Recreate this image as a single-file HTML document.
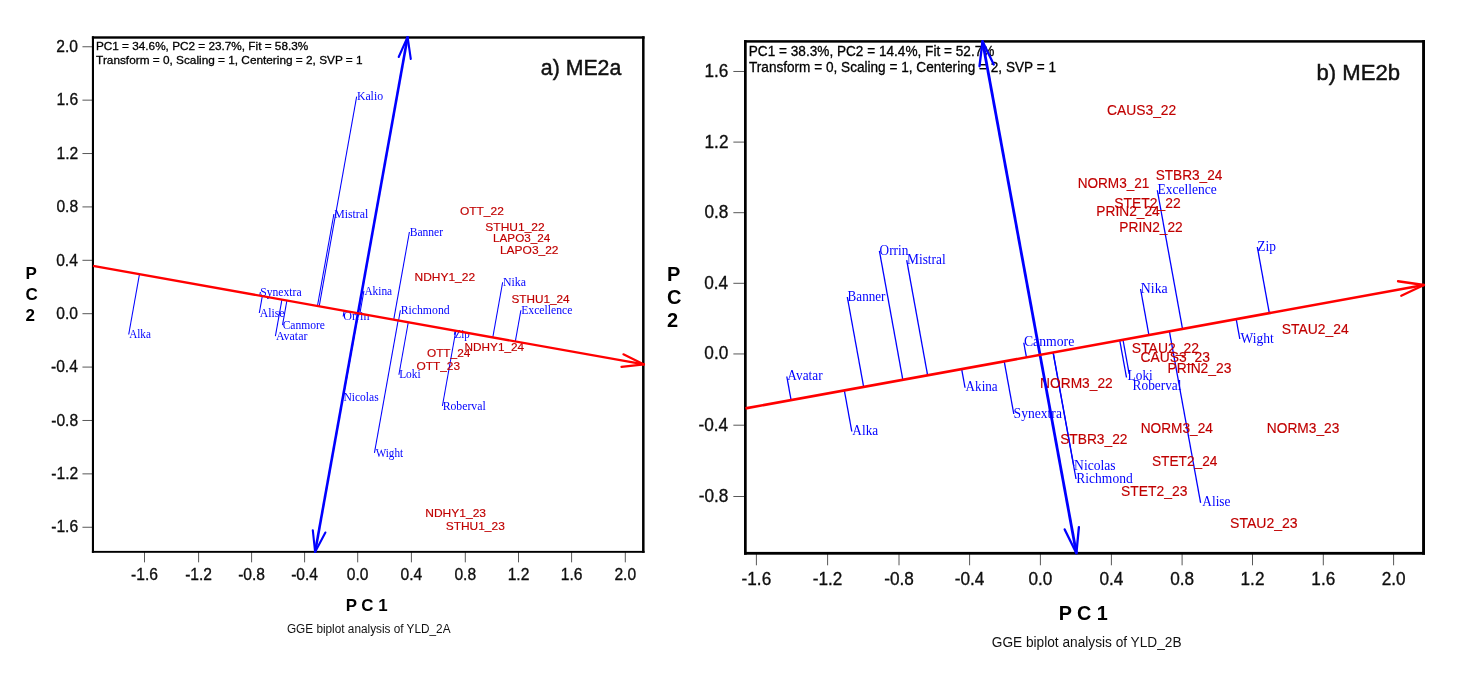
<!DOCTYPE html>
<html lang="en"><head><meta charset="utf-8"><title>GGE biplots ME2a / ME2b</title>
<style>
html,body{margin:0;padding:0;background:#fff;}
body{width:1461px;height:680px;overflow:hidden;}
svg{display:block;}
.s{font-family:"Liberation Sans",Arial,Helvetica,sans-serif;}
.t{font-family:"Liberation Serif","Times New Roman",Times,serif;}
</style></head><body>
<svg width="1461" height="680" viewBox="0 0 1461 680">
<rect width="1461" height="680" fill="#fff"/>
<line x1="82.45" y1="46.76" x2="92.95" y2="46.76" stroke="#585858" stroke-width="1"/>
<text x="56.32" y="51.96" font-size="16" fill="#111111" class="s" textLength="21.69" lengthAdjust="spacingAndGlyphs" stroke="#000" stroke-width="0.3">2.0</text>
<line x1="82.45" y1="100.15" x2="92.95" y2="100.15" stroke="#585858" stroke-width="1"/>
<text x="56.39" y="105.35" font-size="16" fill="#111111" class="s" textLength="21.69" lengthAdjust="spacingAndGlyphs" stroke="#000" stroke-width="0.3">1.6</text>
<line x1="82.45" y1="153.54" x2="92.95" y2="153.54" stroke="#585858" stroke-width="1"/>
<text x="56.49" y="158.74" font-size="16" fill="#111111" class="s" textLength="21.69" lengthAdjust="spacingAndGlyphs" stroke="#000" stroke-width="0.3">1.2</text>
<line x1="82.45" y1="206.92" x2="92.95" y2="206.92" stroke="#585858" stroke-width="1"/>
<text x="56.38" y="212.12" font-size="16" fill="#111111" class="s" textLength="21.69" lengthAdjust="spacingAndGlyphs" stroke="#000" stroke-width="0.3">0.8</text>
<line x1="82.45" y1="260.31" x2="92.95" y2="260.31" stroke="#585858" stroke-width="1"/>
<text x="56.16" y="265.51" font-size="16" fill="#111111" class="s" textLength="21.69" lengthAdjust="spacingAndGlyphs" stroke="#000" stroke-width="0.3">0.4</text>
<line x1="82.45" y1="313.7" x2="92.95" y2="313.7" stroke="#585858" stroke-width="1"/>
<text x="56.32" y="318.90" font-size="16" fill="#111111" class="s" textLength="21.69" lengthAdjust="spacingAndGlyphs" stroke="#000" stroke-width="0.3">0.0</text>
<line x1="82.45" y1="367.09" x2="92.95" y2="367.09" stroke="#585858" stroke-width="1"/>
<text x="50.97" y="372.29" font-size="16" fill="#111111" class="s" textLength="26.89" lengthAdjust="spacingAndGlyphs" stroke="#000" stroke-width="0.3">-0.4</text>
<line x1="82.45" y1="420.48" x2="92.95" y2="420.48" stroke="#585858" stroke-width="1"/>
<text x="51.19" y="425.68" font-size="16" fill="#111111" class="s" textLength="26.89" lengthAdjust="spacingAndGlyphs" stroke="#000" stroke-width="0.3">-0.8</text>
<line x1="82.45" y1="473.86" x2="92.95" y2="473.86" stroke="#585858" stroke-width="1"/>
<text x="51.30" y="479.06" font-size="16" fill="#111111" class="s" textLength="26.89" lengthAdjust="spacingAndGlyphs" stroke="#000" stroke-width="0.3">-1.2</text>
<line x1="82.45" y1="527.25" x2="92.95" y2="527.25" stroke="#585858" stroke-width="1"/>
<text x="51.20" y="532.45" font-size="16" fill="#111111" class="s" textLength="26.89" lengthAdjust="spacingAndGlyphs" stroke="#000" stroke-width="0.3">-1.6</text>
<line x1="144.5" y1="551.85" x2="144.5" y2="562.35" stroke="#585858" stroke-width="1"/>
<text x="131.06" y="579.50" font-size="16" fill="#111111" class="s" textLength="26.89" lengthAdjust="spacingAndGlyphs" stroke="#000" stroke-width="0.3">-1.6</text>
<line x1="198.6" y1="551.85" x2="198.6" y2="562.35" stroke="#585858" stroke-width="1"/>
<text x="185.16" y="579.50" font-size="16" fill="#111111" class="s" textLength="26.89" lengthAdjust="spacingAndGlyphs" stroke="#000" stroke-width="0.3">-1.2</text>
<line x1="251.6" y1="551.85" x2="251.6" y2="562.35" stroke="#585858" stroke-width="1"/>
<text x="238.16" y="579.50" font-size="16" fill="#111111" class="s" textLength="26.89" lengthAdjust="spacingAndGlyphs" stroke="#000" stroke-width="0.3">-0.8</text>
<line x1="304.6" y1="551.85" x2="304.6" y2="562.35" stroke="#585858" stroke-width="1"/>
<text x="291.16" y="579.50" font-size="16" fill="#111111" class="s" textLength="26.89" lengthAdjust="spacingAndGlyphs" stroke="#000" stroke-width="0.3">-0.4</text>
<line x1="357.7" y1="551.85" x2="357.7" y2="562.35" stroke="#585858" stroke-width="1"/>
<text x="346.85" y="579.50" font-size="16" fill="#111111" class="s" textLength="21.69" lengthAdjust="spacingAndGlyphs" stroke="#000" stroke-width="0.3">0.0</text>
<line x1="411.4" y1="551.85" x2="411.4" y2="562.35" stroke="#585858" stroke-width="1"/>
<text x="400.55" y="579.50" font-size="16" fill="#111111" class="s" textLength="21.69" lengthAdjust="spacingAndGlyphs" stroke="#000" stroke-width="0.3">0.4</text>
<line x1="465.3" y1="551.85" x2="465.3" y2="562.35" stroke="#585858" stroke-width="1"/>
<text x="454.45" y="579.50" font-size="16" fill="#111111" class="s" textLength="21.69" lengthAdjust="spacingAndGlyphs" stroke="#000" stroke-width="0.3">0.8</text>
<line x1="518.5" y1="551.85" x2="518.5" y2="562.35" stroke="#585858" stroke-width="1"/>
<text x="507.65" y="579.50" font-size="16" fill="#111111" class="s" textLength="21.69" lengthAdjust="spacingAndGlyphs" stroke="#000" stroke-width="0.3">1.2</text>
<line x1="571.6" y1="551.85" x2="571.6" y2="562.35" stroke="#585858" stroke-width="1"/>
<text x="560.75" y="579.50" font-size="16" fill="#111111" class="s" textLength="21.69" lengthAdjust="spacingAndGlyphs" stroke="#000" stroke-width="0.3">1.6</text>
<line x1="625.3" y1="551.85" x2="625.3" y2="562.35" stroke="#585858" stroke-width="1"/>
<text x="614.45" y="579.50" font-size="16" fill="#111111" class="s" textLength="21.69" lengthAdjust="spacingAndGlyphs" stroke="#000" stroke-width="0.3">2.0</text>
<rect x="91.9" y="36.3" width="2.1" height="516.5" fill="#000"/>
<rect x="642.06" y="36.3" width="2.5" height="516.5" fill="#000"/>
<rect x="91.9" y="36.3" width="552.66" height="2.4" fill="#000"/>
<rect x="91.9" y="550.9" width="552.66" height="1.9" fill="#000"/>
<text x="95.93" y="49.80" font-size="11.8" fill="#000" class="s" textLength="212.29" lengthAdjust="spacingAndGlyphs" stroke="#000" stroke-width="0.3">PC1 = 34.6%, PC2 = 23.7%, Fit = 58.3%</text>
<text x="96.13" y="63.70" font-size="11.8" fill="#000" class="s" textLength="266.44" lengthAdjust="spacingAndGlyphs" stroke="#000" stroke-width="0.3">Transform = 0, Scaling = 1, Centering = 2, SVP = 1</text>
<text x="540.80" y="74.60" font-size="22" fill="#111" class="s" textLength="80.50" lengthAdjust="spacingAndGlyphs" stroke="#111" stroke-width="0.45">a) ME2a</text>
<line x1="356.65" y1="96.7" x2="319.17" y2="306.33" stroke="#0000ff" stroke-width="1.05"/>
<line x1="333.9" y1="214" x2="317.45" y2="306.02" stroke="#0000ff" stroke-width="1.05"/>
<line x1="409.4" y1="232" x2="393.73" y2="319.66" stroke="#0000ff" stroke-width="1.05"/>
<line x1="363.9" y1="291" x2="359.86" y2="313.61" stroke="#0000ff" stroke-width="1.05"/>
<line x1="260.4" y1="292" x2="259.74" y2="295.71" stroke="#0000ff" stroke-width="1.05"/>
<line x1="259.3" y1="313" x2="262.31" y2="296.17" stroke="#0000ff" stroke-width="1.05"/>
<line x1="282.5" y1="325.1" x2="286.89" y2="300.56" stroke="#0000ff" stroke-width="1.05"/>
<line x1="275.4" y1="336.1" x2="281.91" y2="299.67" stroke="#0000ff" stroke-width="1.05"/>
<line x1="128.7" y1="334.5" x2="139.48" y2="274.21" stroke="#0000ff" stroke-width="1.05"/>
<line x1="343.15" y1="316.5" x2="344.17" y2="310.8" stroke="#0000ff" stroke-width="1.05"/>
<line x1="400.4" y1="310.25" x2="398.56" y2="320.52" stroke="#0000ff" stroke-width="1.05"/>
<line x1="502.65" y1="282.25" x2="492.8" y2="337.37" stroke="#0000ff" stroke-width="1.05"/>
<line x1="520.9" y1="310.25" x2="515.33" y2="341.4" stroke="#0000ff" stroke-width="1.05"/>
<line x1="454.4" y1="334.75" x2="455.14" y2="330.64" stroke="#0000ff" stroke-width="1.05"/>
<line x1="398.9" y1="374.75" x2="408.28" y2="322.26" stroke="#0000ff" stroke-width="1.05"/>
<line x1="442.4" y1="406" x2="455.85" y2="330.77" stroke="#0000ff" stroke-width="1.05"/>
<line x1="343.15" y1="397.75" x2="358.24" y2="313.32" stroke="#0000ff" stroke-width="1.05"/>
<line x1="374.45" y1="452.95" x2="398.14" y2="320.45" stroke="#0000ff" stroke-width="1.05"/>
<text x="356.91" y="100.20" font-size="12" fill="#0000ff" class="t" textLength="26.14" lengthAdjust="spacingAndGlyphs">Kalio</text>
<text x="334.16" y="217.50" font-size="12" fill="#0000ff" class="t" textLength="34.08" lengthAdjust="spacingAndGlyphs">Mistral</text>
<text x="409.67" y="235.50" font-size="12" fill="#0000ff" class="t" textLength="33.44" lengthAdjust="spacingAndGlyphs">Banner</text>
<text x="364.39" y="294.50" font-size="12" fill="#0000ff" class="t" textLength="27.77" lengthAdjust="spacingAndGlyphs">Akina</text>
<text x="260.22" y="295.50" font-size="12" fill="#0000ff" class="t" textLength="41.34" lengthAdjust="spacingAndGlyphs">Synextra</text>
<text x="259.79" y="316.50" font-size="12" fill="#0000ff" class="t" textLength="24.82" lengthAdjust="spacingAndGlyphs">Alise</text>
<text x="282.63" y="328.60" font-size="12" fill="#0000ff" class="t" textLength="42.37" lengthAdjust="spacingAndGlyphs">Canmore</text>
<text x="275.88" y="339.60" font-size="12" fill="#0000ff" class="t" textLength="31.52" lengthAdjust="spacingAndGlyphs">Avatar</text>
<text x="129.19" y="338.00" font-size="12" fill="#0000ff" class="t" textLength="21.66" lengthAdjust="spacingAndGlyphs">Alka</text>
<text x="343.25" y="320.00" font-size="12" fill="#0000ff" class="t" textLength="26.18" lengthAdjust="spacingAndGlyphs">Orrin</text>
<text x="400.66" y="313.75" font-size="12" fill="#0000ff" class="t" textLength="48.98" lengthAdjust="spacingAndGlyphs">Richmond</text>
<text x="502.91" y="285.75" font-size="12" fill="#0000ff" class="t" textLength="23.00" lengthAdjust="spacingAndGlyphs">Nika</text>
<text x="521.16" y="313.75" font-size="12" fill="#0000ff" class="t" textLength="51.24" lengthAdjust="spacingAndGlyphs">Excellence</text>
<text x="454.48" y="338.25" font-size="12" fill="#0000ff" class="t" textLength="15.20" lengthAdjust="spacingAndGlyphs">Zip</text>
<text x="399.17" y="378.25" font-size="12" fill="#0000ff" class="t" textLength="21.55" lengthAdjust="spacingAndGlyphs">Loki</text>
<text x="442.66" y="409.50" font-size="12" fill="#0000ff" class="t" textLength="43.07" lengthAdjust="spacingAndGlyphs">Roberval</text>
<text x="343.42" y="401.25" font-size="12" fill="#0000ff" class="t" textLength="35.25" lengthAdjust="spacingAndGlyphs">Nicolas</text>
<text x="375.74" y="456.75" font-size="12" fill="#0000ff" class="t" textLength="27.33" lengthAdjust="spacingAndGlyphs">Wight</text>
<text x="459.93" y="215.00" font-size="11.8" fill="#c00000" class="s" textLength="43.92" lengthAdjust="spacingAndGlyphs" stroke="#c00000" stroke-width="0.15">OTT_22</text>
<text x="485.30" y="230.50" font-size="11.8" fill="#c00000" class="s" textLength="59.40" lengthAdjust="spacingAndGlyphs" stroke="#c00000" stroke-width="0.15">STHU1_22</text>
<text x="493.09" y="241.90" font-size="11.8" fill="#c00000" class="s" textLength="57.15" lengthAdjust="spacingAndGlyphs" stroke="#c00000" stroke-width="0.15">LAPO3_24</text>
<text x="499.97" y="253.80" font-size="11.8" fill="#c00000" class="s" textLength="58.53" lengthAdjust="spacingAndGlyphs" stroke="#c00000" stroke-width="0.15">LAPO3_22</text>
<text x="414.52" y="280.50" font-size="11.8" fill="#c00000" class="s" textLength="60.59" lengthAdjust="spacingAndGlyphs" stroke="#c00000" stroke-width="0.15">NDHY1_22</text>
<text x="511.47" y="303.00" font-size="11.8" fill="#c00000" class="s" textLength="58.13" lengthAdjust="spacingAndGlyphs" stroke="#c00000" stroke-width="0.15">STHU1_24</text>
<text x="464.53" y="350.50" font-size="11.8" fill="#c00000" class="s" textLength="59.56" lengthAdjust="spacingAndGlyphs" stroke="#c00000" stroke-width="0.15">NDHY1_24</text>
<text x="426.94" y="356.75" font-size="11.8" fill="#c00000" class="s" textLength="43.41" lengthAdjust="spacingAndGlyphs" stroke="#c00000" stroke-width="0.15">OTT_24</text>
<text x="416.44" y="369.50" font-size="11.8" fill="#c00000" class="s" textLength="43.59" lengthAdjust="spacingAndGlyphs" stroke="#c00000" stroke-width="0.15">OTT_23</text>
<text x="425.26" y="517.00" font-size="11.8" fill="#c00000" class="s" textLength="60.76" lengthAdjust="spacingAndGlyphs" stroke="#c00000" stroke-width="0.15">NDHY1_23</text>
<text x="445.71" y="529.50" font-size="11.8" fill="#c00000" class="s" textLength="59.07" lengthAdjust="spacingAndGlyphs" stroke="#c00000" stroke-width="0.15">STHU1_23</text>
<line x1="407.6" y1="37" x2="315.1" y2="552" stroke="#0000ff" stroke-width="2.6"/>
<line x1="407.6" y1="37" x2="398.7" y2="57" stroke="#0000ff" stroke-width="2.1" stroke-linecap="round"/>
<line x1="407.6" y1="37" x2="410.8" y2="59" stroke="#0000ff" stroke-width="2.1" stroke-linecap="round"/>
<line x1="315.1" y1="552" x2="312.8" y2="530.2" stroke="#0000ff" stroke-width="2.1" stroke-linecap="round"/>
<line x1="315.1" y1="552" x2="325.4" y2="532.5" stroke="#0000ff" stroke-width="2.1" stroke-linecap="round"/>
<line x1="93" y1="265.9" x2="644" y2="364.4" stroke="#ff0000" stroke-width="2.35"/>
<line x1="644" y1="364.4" x2="623.4" y2="354.3" stroke="#ff0000" stroke-width="2.2" stroke-linecap="round"/>
<line x1="644" y1="364.4" x2="621.5" y2="366.8" stroke="#ff0000" stroke-width="2.2" stroke-linecap="round"/>
<text x="345.63" y="610.90" font-size="17" fill="#000" class="s" font-weight="bold" textLength="41.90" lengthAdjust="spacingAndGlyphs">P C 1</text>
<text x="25.60" y="278.50" font-size="17" fill="#000" class="s" font-weight="bold" textLength="11.34" lengthAdjust="spacingAndGlyphs">P</text>
<text x="25.60" y="299.75" font-size="17" fill="#000" class="s" font-weight="bold" textLength="12.28" lengthAdjust="spacingAndGlyphs">C</text>
<text x="25.60" y="320.50" font-size="17" fill="#000" class="s" font-weight="bold" textLength="9.47" lengthAdjust="spacingAndGlyphs">2</text>
<text x="286.91" y="633.20" font-size="12" fill="#111" class="s" textLength="163.62" lengthAdjust="spacingAndGlyphs">GGE biplot analysis of YLD_2A</text>
<line x1="733.35" y1="71.47" x2="745.35" y2="71.47" stroke="#585858" stroke-width="1"/>
<text x="704.45" y="76.97" font-size="18" fill="#111111" class="s" textLength="23.90" lengthAdjust="spacingAndGlyphs" stroke="#000" stroke-width="0.3">1.6</text>
<line x1="733.35" y1="142.1" x2="745.35" y2="142.1" stroke="#585858" stroke-width="1"/>
<text x="704.56" y="147.60" font-size="18" fill="#111111" class="s" textLength="23.90" lengthAdjust="spacingAndGlyphs" stroke="#000" stroke-width="0.3">1.2</text>
<line x1="733.35" y1="212.7" x2="745.35" y2="212.7" stroke="#585858" stroke-width="1"/>
<text x="704.44" y="218.20" font-size="18" fill="#111111" class="s" textLength="23.90" lengthAdjust="spacingAndGlyphs" stroke="#000" stroke-width="0.3">0.8</text>
<line x1="733.35" y1="283.3" x2="745.35" y2="283.3" stroke="#585858" stroke-width="1"/>
<text x="704.20" y="288.80" font-size="18" fill="#111111" class="s" textLength="23.90" lengthAdjust="spacingAndGlyphs" stroke="#000" stroke-width="0.3">0.4</text>
<line x1="733.35" y1="353.94" x2="745.35" y2="353.94" stroke="#585858" stroke-width="1"/>
<text x="704.37" y="359.44" font-size="18" fill="#111111" class="s" textLength="23.90" lengthAdjust="spacingAndGlyphs" stroke="#000" stroke-width="0.3">0.0</text>
<line x1="733.35" y1="425.2" x2="745.35" y2="425.2" stroke="#585858" stroke-width="1"/>
<text x="698.47" y="430.70" font-size="18" fill="#111111" class="s" textLength="29.63" lengthAdjust="spacingAndGlyphs" stroke="#000" stroke-width="0.3">-0.4</text>
<line x1="733.35" y1="496.5" x2="745.35" y2="496.5" stroke="#585858" stroke-width="1"/>
<text x="698.71" y="502.00" font-size="18" fill="#111111" class="s" textLength="29.63" lengthAdjust="spacingAndGlyphs" stroke="#000" stroke-width="0.3">-0.8</text>
<line x1="756.4" y1="553.3" x2="756.4" y2="565.3" stroke="#585858" stroke-width="1"/>
<text x="741.58" y="585.00" font-size="18" fill="#111111" class="s" textLength="29.63" lengthAdjust="spacingAndGlyphs" stroke="#000" stroke-width="0.3">-1.6</text>
<line x1="827.6" y1="553.3" x2="827.6" y2="565.3" stroke="#585858" stroke-width="1"/>
<text x="812.78" y="585.00" font-size="18" fill="#111111" class="s" textLength="29.63" lengthAdjust="spacingAndGlyphs" stroke="#000" stroke-width="0.3">-1.2</text>
<line x1="899" y1="553.3" x2="899" y2="565.3" stroke="#585858" stroke-width="1"/>
<text x="884.18" y="585.00" font-size="18" fill="#111111" class="s" textLength="29.63" lengthAdjust="spacingAndGlyphs" stroke="#000" stroke-width="0.3">-0.8</text>
<line x1="969.6" y1="553.3" x2="969.6" y2="565.3" stroke="#585858" stroke-width="1"/>
<text x="954.78" y="585.00" font-size="18" fill="#111111" class="s" textLength="29.63" lengthAdjust="spacingAndGlyphs" stroke="#000" stroke-width="0.3">-0.4</text>
<line x1="1040.4" y1="553.3" x2="1040.4" y2="565.3" stroke="#585858" stroke-width="1"/>
<text x="1028.45" y="585.00" font-size="18" fill="#111111" class="s" textLength="23.90" lengthAdjust="spacingAndGlyphs" stroke="#000" stroke-width="0.3">0.0</text>
<line x1="1111.4" y1="553.3" x2="1111.4" y2="565.3" stroke="#585858" stroke-width="1"/>
<text x="1099.45" y="585.00" font-size="18" fill="#111111" class="s" textLength="23.90" lengthAdjust="spacingAndGlyphs" stroke="#000" stroke-width="0.3">0.4</text>
<line x1="1182.1" y1="553.3" x2="1182.1" y2="565.3" stroke="#585858" stroke-width="1"/>
<text x="1170.15" y="585.00" font-size="18" fill="#111111" class="s" textLength="23.90" lengthAdjust="spacingAndGlyphs" stroke="#000" stroke-width="0.3">0.8</text>
<line x1="1252.5" y1="553.3" x2="1252.5" y2="565.3" stroke="#585858" stroke-width="1"/>
<text x="1240.55" y="585.00" font-size="18" fill="#111111" class="s" textLength="23.90" lengthAdjust="spacingAndGlyphs" stroke="#000" stroke-width="0.3">1.2</text>
<line x1="1323.3" y1="553.3" x2="1323.3" y2="565.3" stroke="#585858" stroke-width="1"/>
<text x="1311.35" y="585.00" font-size="18" fill="#111111" class="s" textLength="23.90" lengthAdjust="spacingAndGlyphs" stroke="#000" stroke-width="0.3">1.6</text>
<line x1="1393.6" y1="553.3" x2="1393.6" y2="565.3" stroke="#585858" stroke-width="1"/>
<text x="1381.65" y="585.00" font-size="18" fill="#111111" class="s" textLength="23.90" lengthAdjust="spacingAndGlyphs" stroke="#000" stroke-width="0.3">2.0</text>
<rect x="744" y="40.15" width="2.7" height="514.55" fill="#000"/>
<rect x="1422.1" y="40.15" width="2.9" height="514.55" fill="#000"/>
<rect x="744" y="40.15" width="681" height="2.5" fill="#000"/>
<rect x="744" y="551.9" width="681" height="2.8" fill="#000"/>
<text x="748.78" y="55.50" font-size="14.3" fill="#000" class="s" textLength="245.60" lengthAdjust="spacingAndGlyphs" stroke="#000" stroke-width="0.3">PC1 = 38.3%, PC2 = 14.4%, Fit = 52.7%</text>
<text x="748.99" y="72.40" font-size="14.3" fill="#000" class="s" textLength="306.97" lengthAdjust="spacingAndGlyphs" stroke="#000" stroke-width="0.3">Transform = 0, Scaling = 1, Centering = 2, SVP = 1</text>
<text x="1316.57" y="79.50" font-size="22" fill="#111" class="s" textLength="83.60" lengthAdjust="spacingAndGlyphs" stroke="#111" stroke-width="0.45">b) ME2b</text>
<line x1="879.4" y1="250.9" x2="902.84" y2="379.78" stroke="#0000ff" stroke-width="1.3"/>
<line x1="906.7" y1="260.2" x2="927.63" y2="375.28" stroke="#0000ff" stroke-width="1.3"/>
<line x1="847.3" y1="297" x2="863.65" y2="386.91" stroke="#0000ff" stroke-width="1.3"/>
<line x1="1023.8" y1="342.75" x2="1026.45" y2="357.3" stroke="#0000ff" stroke-width="1.3"/>
<line x1="786.8" y1="376.5" x2="791.09" y2="400.11" stroke="#0000ff" stroke-width="1.3"/>
<line x1="851.8" y1="431.5" x2="844.33" y2="390.43" stroke="#0000ff" stroke-width="1.3"/>
<line x1="965.05" y1="387.75" x2="961.66" y2="369.09" stroke="#0000ff" stroke-width="1.3"/>
<line x1="1013.8" y1="414" x2="1004.22" y2="361.35" stroke="#0000ff" stroke-width="1.3"/>
<line x1="1073.8" y1="466" x2="1053.15" y2="352.45" stroke="#0000ff" stroke-width="1.3"/>
<line x1="1076.05" y1="479" x2="1053.04" y2="352.47" stroke="#0000ff" stroke-width="1.3"/>
<line x1="1157.3" y1="190.25" x2="1182.52" y2="328.92" stroke="#0000ff" stroke-width="1.3"/>
<line x1="1257.3" y1="247" x2="1269.33" y2="313.13" stroke="#0000ff" stroke-width="1.3"/>
<line x1="1140.55" y1="289" x2="1148.92" y2="335.03" stroke="#0000ff" stroke-width="1.3"/>
<line x1="1239.8" y1="339" x2="1236.19" y2="319.16" stroke="#0000ff" stroke-width="1.3"/>
<line x1="1126.5" y1="377.5" x2="1119.74" y2="340.34" stroke="#0000ff" stroke-width="1.3"/>
<line x1="1129.2" y1="374" x2="1122.97" y2="339.75" stroke="#0000ff" stroke-width="1.3"/>
<line x1="1200.6" y1="502.8" x2="1169.41" y2="331.3" stroke="#0000ff" stroke-width="1.3"/>
<text x="879.56" y="254.60" font-size="14" fill="#0000ff" class="t" textLength="28.75" lengthAdjust="spacingAndGlyphs">Orrin</text>
<text x="907.01" y="263.90" font-size="14" fill="#0000ff" class="t" textLength="38.75" lengthAdjust="spacingAndGlyphs">Mistral</text>
<text x="847.62" y="300.70" font-size="14" fill="#0000ff" class="t" textLength="37.79" lengthAdjust="spacingAndGlyphs">Banner</text>
<text x="1023.94" y="346.45" font-size="14" fill="#0000ff" class="t" textLength="50.29" lengthAdjust="spacingAndGlyphs">Canmore</text>
<text x="787.37" y="380.20" font-size="14" fill="#0000ff" class="t" textLength="35.25" lengthAdjust="spacingAndGlyphs">Avatar</text>
<text x="852.37" y="435.20" font-size="14" fill="#0000ff" class="t" textLength="25.81" lengthAdjust="spacingAndGlyphs">Alka</text>
<text x="965.62" y="391.45" font-size="14" fill="#0000ff" class="t" textLength="32.06" lengthAdjust="spacingAndGlyphs">Akina</text>
<text x="1013.59" y="417.70" font-size="14" fill="#0000ff" class="t" textLength="48.35" lengthAdjust="spacingAndGlyphs">Synextra</text>
<text x="1074.11" y="469.70" font-size="14" fill="#0000ff" class="t" textLength="41.38" lengthAdjust="spacingAndGlyphs">Nicolas</text>
<text x="1076.36" y="482.70" font-size="14" fill="#0000ff" class="t" textLength="56.30" lengthAdjust="spacingAndGlyphs">Richmond</text>
<text x="1157.61" y="193.95" font-size="14" fill="#0000ff" class="t" textLength="59.11" lengthAdjust="spacingAndGlyphs">Excellence</text>
<text x="1257.36" y="250.70" font-size="14" fill="#0000ff" class="t" textLength="18.67" lengthAdjust="spacingAndGlyphs">Zip</text>
<text x="1140.85" y="292.70" font-size="14" fill="#0000ff" class="t" textLength="26.84" lengthAdjust="spacingAndGlyphs">Nika</text>
<text x="1240.49" y="342.70" font-size="14" fill="#0000ff" class="t" textLength="33.34" lengthAdjust="spacingAndGlyphs">Wight</text>
<text x="1127.62" y="379.70" font-size="14" fill="#0000ff" class="t" textLength="25.14" lengthAdjust="spacingAndGlyphs">Loki</text>
<text x="1132.62" y="389.70" font-size="14" fill="#0000ff" class="t" textLength="48.90" lengthAdjust="spacingAndGlyphs">Roberval</text>
<text x="1202.37" y="505.70" font-size="14" fill="#0000ff" class="t" textLength="28.09" lengthAdjust="spacingAndGlyphs">Alise</text>
<text x="1107.05" y="115.00" font-size="14" fill="#c00000" class="s" textLength="69.15" lengthAdjust="spacingAndGlyphs" stroke="#c00000" stroke-width="0.15">CAUS3_22</text>
<text x="1155.63" y="179.50" font-size="14" fill="#c00000" class="s" textLength="66.77" lengthAdjust="spacingAndGlyphs" stroke="#c00000" stroke-width="0.15">STBR3_24</text>
<text x="1077.63" y="187.50" font-size="14" fill="#c00000" class="s" textLength="71.78" lengthAdjust="spacingAndGlyphs" stroke="#c00000" stroke-width="0.15">NORM3_21</text>
<text x="1114.37" y="207.50" font-size="14" fill="#c00000" class="s" textLength="66.33" lengthAdjust="spacingAndGlyphs" stroke="#c00000" stroke-width="0.15">STET2_22</text>
<text x="1096.37" y="216.25" font-size="14" fill="#c00000" class="s" textLength="63.28" lengthAdjust="spacingAndGlyphs" stroke="#c00000" stroke-width="0.15">PRIN2_24</text>
<text x="1119.37" y="231.75" font-size="14" fill="#c00000" class="s" textLength="63.32" lengthAdjust="spacingAndGlyphs" stroke="#c00000" stroke-width="0.15">PRIN2_22</text>
<text x="1281.87" y="334.25" font-size="14" fill="#c00000" class="s" textLength="66.79" lengthAdjust="spacingAndGlyphs" stroke="#c00000" stroke-width="0.15">STAU2_24</text>
<text x="1131.87" y="352.50" font-size="14" fill="#c00000" class="s" textLength="67.08" lengthAdjust="spacingAndGlyphs" stroke="#c00000" stroke-width="0.15">STAU2_22</text>
<text x="1140.55" y="361.75" font-size="14" fill="#c00000" class="s" textLength="69.31" lengthAdjust="spacingAndGlyphs" stroke="#c00000" stroke-width="0.15">CAUS3_23</text>
<text x="1167.62" y="372.50" font-size="14" fill="#c00000" class="s" textLength="63.74" lengthAdjust="spacingAndGlyphs" stroke="#c00000" stroke-width="0.15">PRIN2_23</text>
<text x="1040.12" y="387.50" font-size="14" fill="#c00000" class="s" textLength="72.57" lengthAdjust="spacingAndGlyphs" stroke="#c00000" stroke-width="0.15">NORM3_22</text>
<text x="1140.63" y="433.00" font-size="14" fill="#c00000" class="s" textLength="72.27" lengthAdjust="spacingAndGlyphs" stroke="#c00000" stroke-width="0.15">NORM3_24</text>
<text x="1266.87" y="433.00" font-size="14" fill="#c00000" class="s" textLength="72.48" lengthAdjust="spacingAndGlyphs" stroke="#c00000" stroke-width="0.15">NORM3_23</text>
<text x="1060.13" y="444.00" font-size="14" fill="#c00000" class="s" textLength="67.32" lengthAdjust="spacingAndGlyphs" stroke="#c00000" stroke-width="0.15">STBR3_22</text>
<text x="1151.88" y="465.50" font-size="14" fill="#c00000" class="s" textLength="65.52" lengthAdjust="spacingAndGlyphs" stroke="#c00000" stroke-width="0.15">STET2_24</text>
<text x="1121.12" y="495.50" font-size="14" fill="#c00000" class="s" textLength="66.24" lengthAdjust="spacingAndGlyphs" stroke="#c00000" stroke-width="0.15">STET2_23</text>
<text x="1230.11" y="527.50" font-size="14" fill="#c00000" class="s" textLength="67.50" lengthAdjust="spacingAndGlyphs" stroke="#c00000" stroke-width="0.15">STAU2_23</text>
<line x1="982.5" y1="41.25" x2="1076.4" y2="553.2" stroke="#0000ff" stroke-width="2.8"/>
<line x1="982.5" y1="41.25" x2="979.5" y2="66.25" stroke="#0000ff" stroke-width="2.3" stroke-linecap="round"/>
<line x1="982.5" y1="41.25" x2="993.75" y2="64.5" stroke="#0000ff" stroke-width="2.3" stroke-linecap="round"/>
<line x1="1076.4" y1="553.2" x2="1064.7" y2="529.4" stroke="#0000ff" stroke-width="2.3" stroke-linecap="round"/>
<line x1="1076.4" y1="553.2" x2="1078.9" y2="527.2" stroke="#0000ff" stroke-width="2.3" stroke-linecap="round"/>
<line x1="745.5" y1="408.4" x2="1424" y2="285" stroke="#ff0000" stroke-width="2.6"/>
<line x1="1424" y1="285" x2="1398" y2="281.25" stroke="#ff0000" stroke-width="2.3" stroke-linecap="round"/>
<line x1="1424" y1="285" x2="1401.25" y2="295.75" stroke="#ff0000" stroke-width="2.3" stroke-linecap="round"/>
<text x="1058.68" y="620.30" font-size="20" fill="#000" class="s" font-weight="bold" textLength="49.18" lengthAdjust="spacingAndGlyphs">P C 1</text>
<text x="667.00" y="280.60" font-size="20" fill="#000" class="s" font-weight="bold" textLength="13.34" lengthAdjust="spacingAndGlyphs">P</text>
<text x="667.00" y="304.10" font-size="20" fill="#000" class="s" font-weight="bold" textLength="14.45" lengthAdjust="spacingAndGlyphs">C</text>
<text x="667.00" y="327.10" font-size="20" fill="#000" class="s" font-weight="bold" textLength="11.12" lengthAdjust="spacingAndGlyphs">2</text>
<text x="991.81" y="647.20" font-size="14" fill="#111" class="s" textLength="189.71" lengthAdjust="spacingAndGlyphs">GGE biplot analysis of YLD_2B</text>
</svg>
</body></html>
